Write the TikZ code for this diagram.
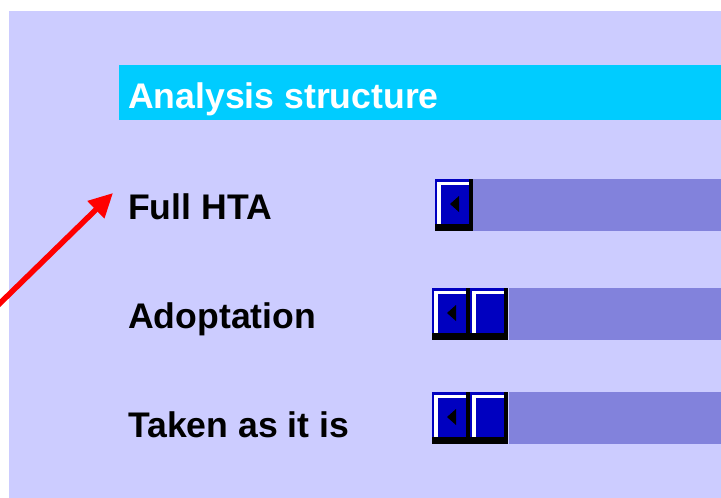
\documentclass[tikz,border=0pt]{standalone}
\usepackage{fontspec}
\setmainfont{Liberation Sans}
\usetikzlibrary{arrows.meta}
\definecolor{panel}{HTML}{CCCCFF}
\definecolor{headbar}{HTML}{00CCFF}
\definecolor{track}{HTML}{8282DC}
\definecolor{btnblue}{HTML}{0000C0}
\tikzset{
    label/.style={anchor=base west, inner sep=0, font=\fontsize{35.6}{40}\selectfont\bfseries}
}
\begin{document}
\begin{tikzpicture}[x=1pt,y=-1pt]
            \useasboundingbox[fill=white] (0,0) rectangle (721,498);
            \fill[panel] (9,11) rectangle (721,498);
            \fill[headbar] (119,65) rectangle (721,120);
            \node[label, text=white] (hdr) at (128,108) {Analysis structure};

            \node[label] (full) at (128,219) {Full HTA};
            \node[label] (adopt) at (128,328) {Adoptation};
            \node[label] (taken) at (128,437) {Taken as it is};

            % slider tracks
            \fill[track] (473,179) rectangle (721,231);
            \fill[track] (509,288) rectangle (721,340);
            \fill[track] (509,392) rectangle (721,444);

            % slider buttons
            \foreach \bx/\by/\tri in {435/179/1, 432/288/1, 470/288/0, 432/392/1, 470/392/0} {
                \begin{scope}[shift={(\bx,\by)}]
                    \fill[btnblue] (0,0) rectangle (38,52);
                    \fill[black] (34,0) rectangle (38,52);
                    \fill[black] (0,45) rectangle (38,52);
                    \fill[white] (2,3) rectangle (6,45);
                    \fill[white] (2,3) rectangle (34,6);
                    \ifnum\tri=1
                        \fill[black] (15,25) -- (24,17) -- (24,33) -- cycle;
                    \fi
                \end{scope}
            }

            \coordinate (tail) at (-8,311);
            \coordinate (tip) at (113,193);
            \draw[-{Triangle[length=24pt,width=23pt]}, red, line width=5.5pt] (tail) -- (tip);
        \end{tikzpicture}
\end{document}
